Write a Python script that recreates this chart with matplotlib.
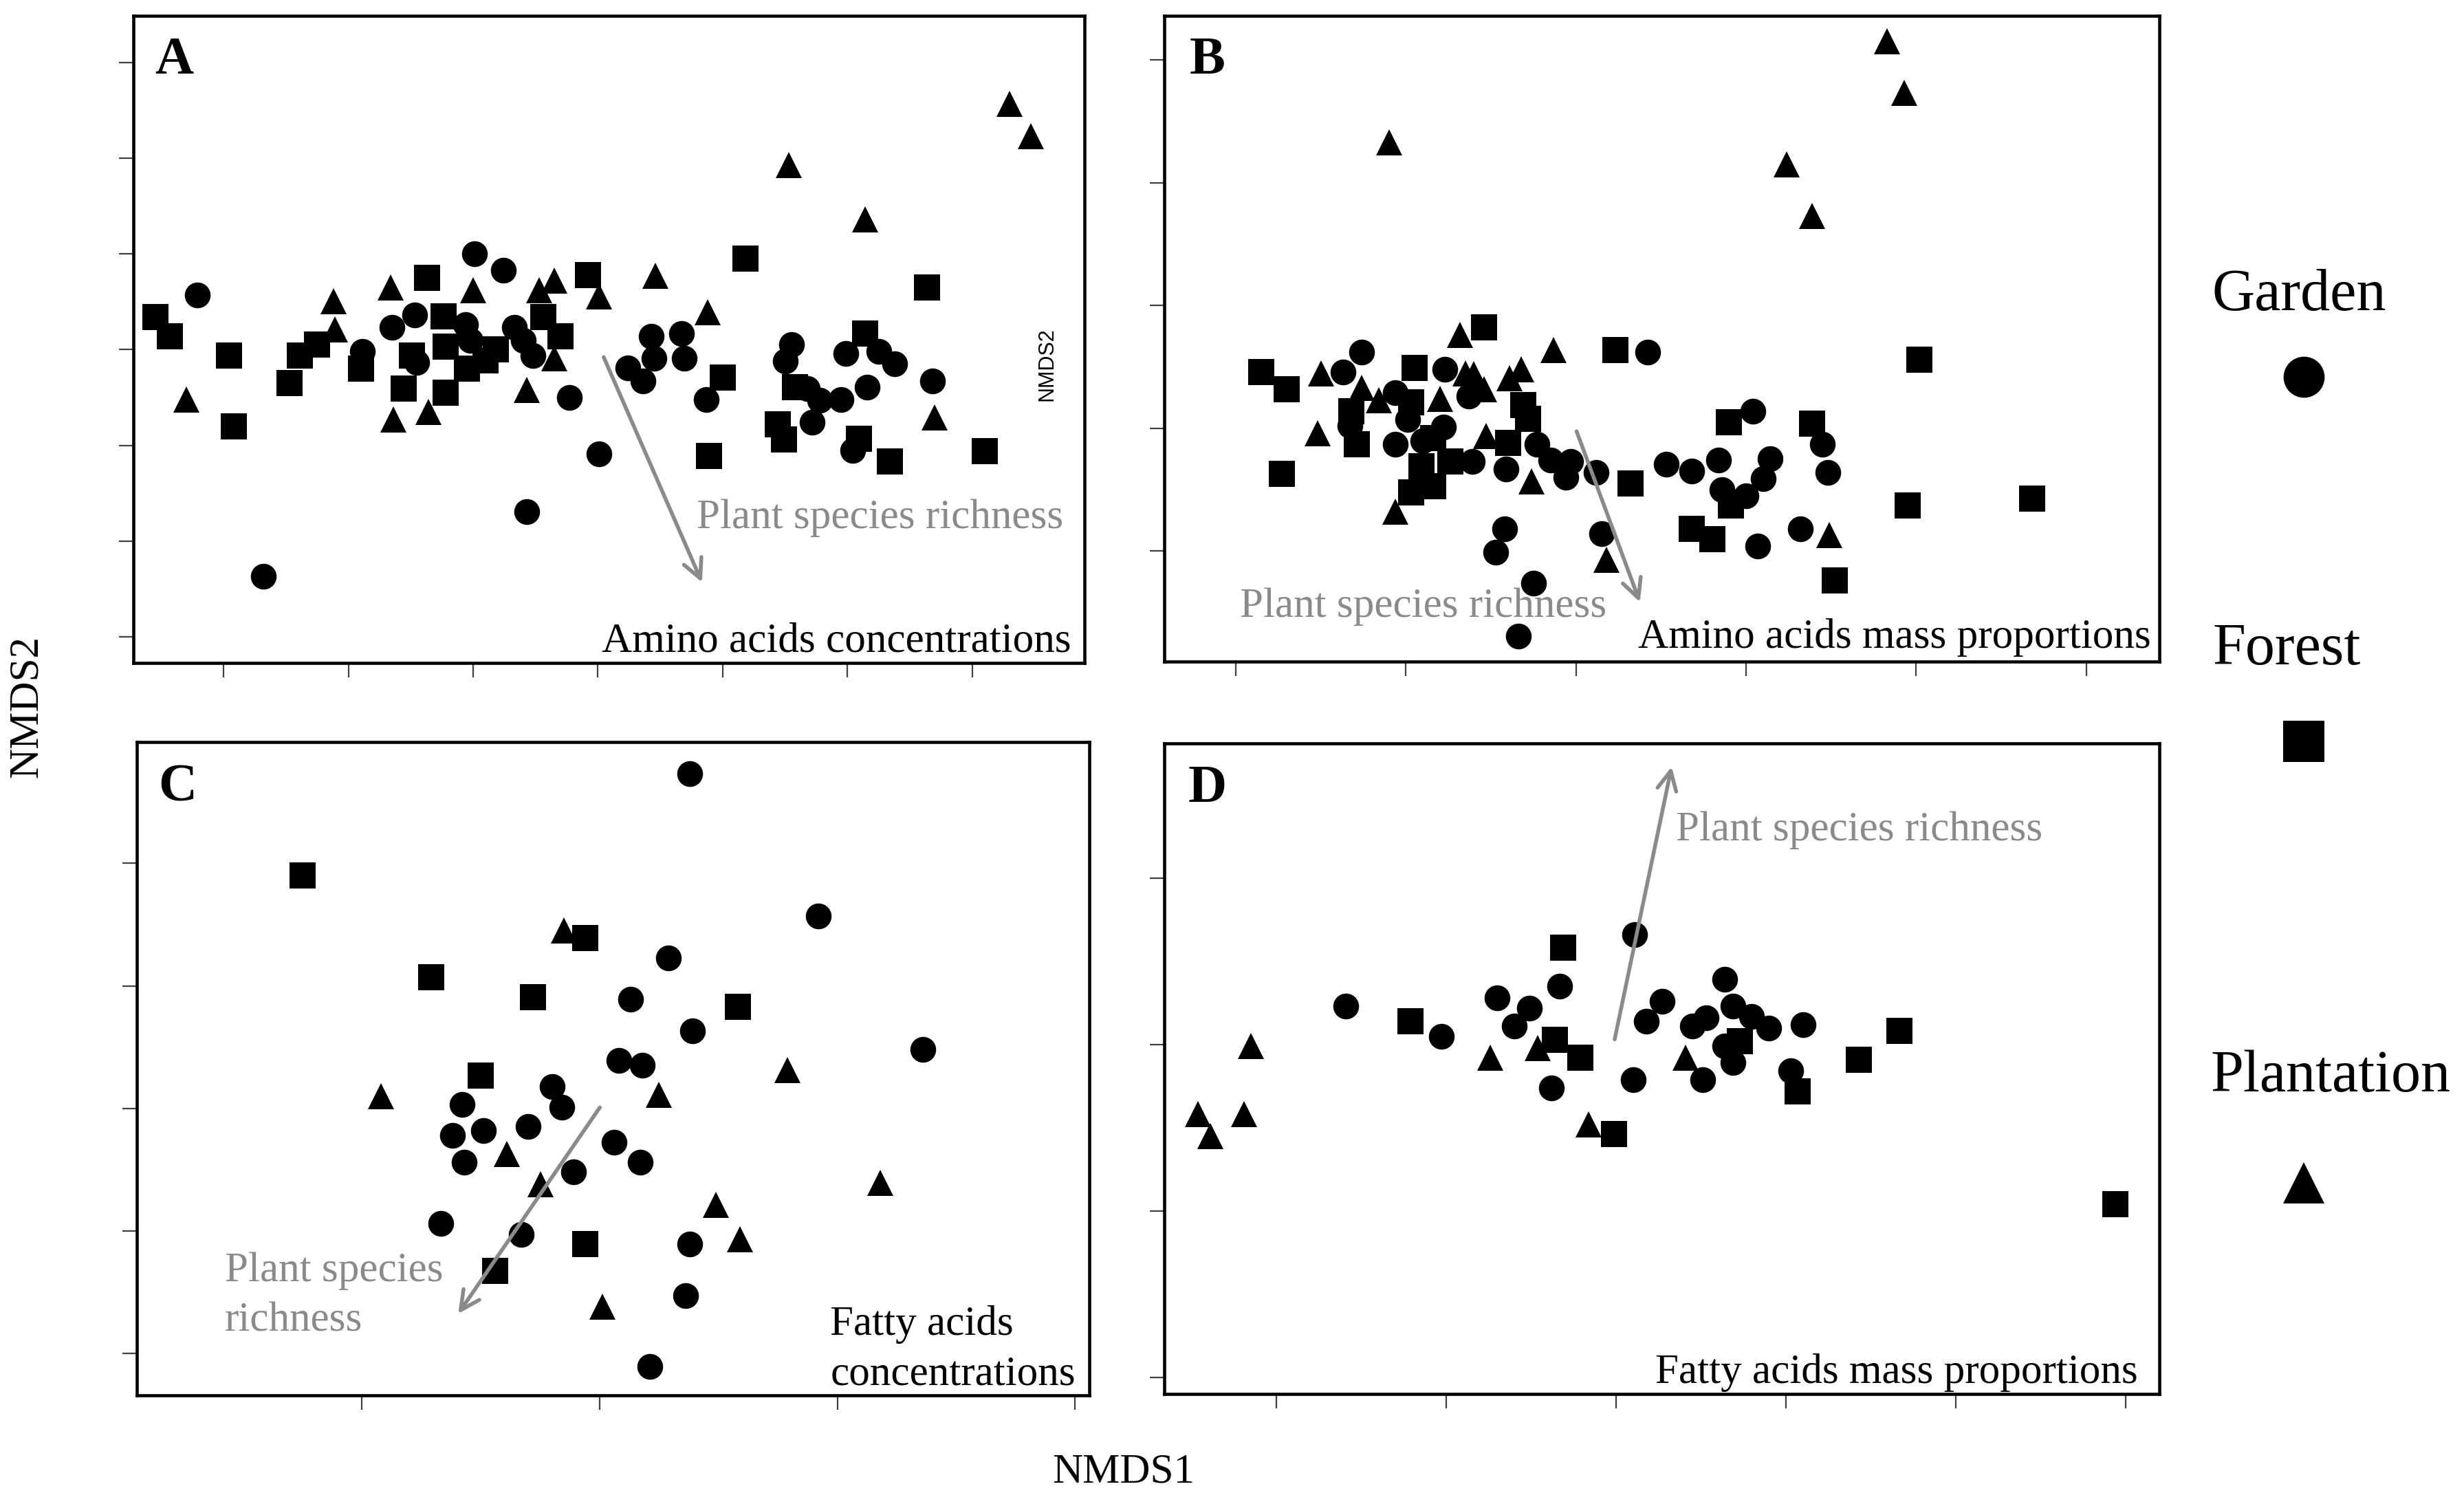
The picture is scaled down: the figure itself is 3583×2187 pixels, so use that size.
import matplotlib
matplotlib.use("Agg")
import matplotlib.pyplot as plt

plt.rcParams['font.family'] = ['Liberation Serif', 'DejaVu Serif']

# ---- data (NMDS scores, axis units = tick spacing) ----
# panel A: amino acids concentrations
a_garden = [(-0.21, 3.57), (2.01, 4.00), (2.24, 3.83), (1.35, 3.23), (1.53, 3.36), (1.94, 3.26),
            (1.98, 3.10), (2.33, 3.23), (2.40, 3.10), (2.48, 2.94), (1.11, 2.98), (1.55, 2.87),
            (2.77, 2.50), (3.01, 1.91), (2.43, 1.31), (0.32, 0.63), (3.24, 2.81), (3.36, 2.67),
            (3.43, 3.14), (3.45, 2.91), (3.67, 3.17), (3.69, 2.91), (3.87, 2.48), (4.55, 3.05),
            (4.50, 2.88), (4.68, 2.59), (4.78, 2.47), (4.72, 2.24), (4.95, 2.48), (4.99, 2.96),
            (5.16, 2.61), (5.25, 2.98), (5.38, 2.85), (5.68, 2.67), (5.04, 1.95)]
a_forest = [(-0.55, 3.34), (-0.43, 3.14), (0.04, 2.94), (0.08, 2.20), (0.53, 2.65), (0.61, 2.94),
            (0.75, 3.05), (1.10, 2.80), (1.63, 3.75), (1.44, 2.59), (1.51, 2.94), (1.76, 3.35),
            (1.78, 3.03), (1.78, 2.55), (1.95, 2.80), (2.10, 2.89), (2.18, 3.00), (2.56, 3.34),
            (2.70, 3.14), (2.92, 3.78), (4.18, 3.95), (4.00, 2.71), (3.89, 1.89), (4.44, 2.22),
            (4.49, 2.06), (4.58, 2.61), (5.14, 3.17), (5.09, 2.07), (5.34, 1.83), (5.64, 3.65),
            (6.10, 1.94)]
a_plantation = [(-0.30, 2.48), (0.88, 3.51), (0.89, 3.21), (1.34, 3.65), (1.36, 2.27), (1.64, 2.35),
                (2.00, 3.62), (2.43, 2.58), (2.53, 3.62), (2.65, 3.72), (2.65, 2.91), (3.01, 3.56),
                (3.46, 3.77), (3.88, 3.39), (4.53, 4.93), (5.14, 4.36), (5.70, 2.29), (6.30, 5.57),
                (6.47, 5.23)]
a_arrow = [(3.04, 2.94), (3.84, 0.55)]

# panel B: amino acids mass proportions
b_garden = [(0.74, 1.62), (0.63, 1.46), (0.94, 1.29), (1.01, 1.07), (0.67, 1.02), (0.94, 0.87),
            (1.23, 1.48), (1.37, 1.26), (1.22, 1.01), (1.10, 0.90), (1.39, 0.73), (1.59, 0.67),
            (1.77, 0.87), (1.85, 0.74), (1.97, 0.73), (1.94, 0.60), (2.12, 0.64), (2.42, 1.62),
            (2.53, 0.71), (2.68, 0.65), (2.84, 0.74), (2.86, 0.50), (3.00, 0.45), (3.10, 0.59),
            (3.14, 0.75), (3.04, 1.14), (3.45, 0.87), (3.48, 0.64), (3.32, 0.18), (3.07, 0.04),
            (1.58, 0.18), (1.53, -0.01), (2.15, 0.14), (1.75, -0.26), (1.66, -0.69)]
b_forest = [(0.15, 1.46), (0.30, 1.32), (0.27, 0.63), (0.68, 1.14), (0.71, 0.87), (1.05, 1.49),
            (1.03, 1.21), (1.16, 0.92), (1.09, 0.69), (1.03, 0.48), (1.16, 0.53), (1.26, 0.73),
            (1.46, 1.82), (1.69, 1.19), (1.72, 1.08), (1.60, 0.88), (2.23, 1.64), (2.32, 0.55),
            (2.90, 1.05), (2.91, 0.37), (2.68, 0.18), (2.80, 0.10), (3.39, 1.04), (3.52, -0.24),
            (3.95, 0.37), (4.02, 1.56), (4.68, 0.43)]
b_plantation = [(0.90, 3.33), (0.50, 1.45), (0.48, 0.96), (0.74, 1.33), (0.84, 1.23), (1.20, 1.24),
                (1.32, 1.76), (1.35, 1.45), (1.40, 1.44), (1.46, 1.32), (1.47, 0.94), (1.61, 1.41),
                (1.68, 1.48), (1.87, 1.64), (0.94, 0.32), (1.74, 0.57), (2.18, -0.07), (3.49, 0.13),
                (3.24, 3.15), (3.39, 2.73), (3.83, 4.15), (3.93, 3.73)]
b_arrow = [(2.00, 0.99), (2.38, -0.43)]

# panel C: fatty acids concentrations
c_garden = [(1.38, 4.73), (1.92, 3.57), (1.29, 3.23), (1.13, 2.89), (1.39, 2.63), (2.36, 2.48),
            (1.08, 2.39), (1.18, 2.35), (0.80, 2.18), (0.84, 2.01), (0.42, 2.03), (0.38, 1.78),
            (0.51, 1.82), (0.70, 1.85), (0.43, 1.56), (1.06, 1.72), (1.17, 1.56), (0.89, 1.48),
            (0.33, 1.06), (0.67, 0.97), (1.38, 0.89), (1.36, 0.47), (1.21, -0.11)]
c_forest = [(-0.25, 3.90), (0.94, 3.39), (0.29, 3.07), (0.72, 2.91), (1.58, 2.83), (0.50, 2.27),
            (0.94, 0.89), (0.56, 0.67)]
c_plantation = [(0.85, 3.45), (0.08, 2.10), (0.61, 1.63), (0.75, 1.38), (1.25, 2.11), (1.79, 2.31),
                (1.49, 1.21), (1.59, 0.93), (2.18, 1.39), (1.01, 0.38)]
c_arrow = [(1.005, 2.02), (0.40, 0.31)]

# panel D: fatty acids mass proportions
d_garden = [(0.41, 2.23), (0.97, 2.05), (1.30, 2.28), (1.40, 2.11), (1.49, 2.22), (1.67, 2.35),
            (1.62, 1.74), (2.11, 2.66), (2.18, 2.14), (2.27, 2.26), (2.10, 1.79), (2.45, 2.11),
            (2.53, 2.16), (2.64, 2.39), (2.69, 2.23), (2.80, 2.17), (2.90, 2.10), (3.10, 2.12),
            (2.64, 1.99), (2.69, 1.89), (2.51, 1.79), (3.03, 1.84)]
d_forest = [(1.69, 2.58), (0.79, 2.14), (1.64, 2.03), (1.79, 1.92), (2.73, 2.02), (3.07, 1.72),
            (3.43, 1.91), (3.67, 2.08), (1.99, 1.46), (4.94, 1.04)]
d_plantation = [(-0.15, 1.99), (-0.46, 1.58), (-0.39, 1.45), (-0.19, 1.58), (1.26, 1.92),
                (1.54, 1.98), (2.41, 1.92), (1.84, 1.52)]
d_arrow = [(1.99, 2.02), (2.33, 3.68)]

panel_letters = ['A', 'B', 'C', 'D']
panel_titles = ['Amino acids concentrations', 'Amino acids mass proportions',
                'Fatty acids\nconcentrations', 'Fatty acids mass proportions']
vector_label = ['Plant species richness', 'Plant species richness',
                'Plant species\nrichness', 'Plant species richness']
groups = ['Garden', 'Forest', 'Plantation']

# marker and size per site type
markers = {'Garden': ('o', 27), 'Forest': ('s', 27.5), 'Plantation': ('^', 27)}

fig = plt.figure(figsize=(35.83, 21.87), dpi=100)

# axes rectangles (figure fractions) and limits
rects = [[0.0541, 0.5592, 0.386, 0.4303], [0.4725, 0.5601, 0.4039, 0.4294],
         [0.0555, 0.0722, 0.3866, 0.4344], [0.4725, 0.0732, 0.4039, 0.4326]]
xlims = [(-0.725, 6.9), (-0.42, 5.43), (-0.948, 3.06), (-0.66, 5.2)]
ylims = [(-0.275, 6.49), (-0.9, 4.36), (-0.344, 4.99), (-0.1, 3.81)]
xticks = [range(7), range(6), range(4), range(6)]
yticks = [range(7), range(5), range(5), range(4)]
# text placement in axes fraction
vec_pos = [(0.592, 0.224), (0.076, 0.085), (0.0925, 0.152), (0.514, 0.866)]
title_pos = [(0.986, 0.033, 'right'), (0.9915, 0.037, 'right'),
             (0.728, 0.07, 'left'), (0.978, 0.033, 'right')]

data = [(a_garden, a_forest, a_plantation, a_arrow),
        (b_garden, b_forest, b_plantation, b_arrow),
        (c_garden, c_forest, c_plantation, c_arrow),
        (d_garden, d_forest, d_plantation, d_arrow)]

gray = '#8a8a8a'
for i in range(4):
    ax = fig.add_axes(rects[i])
    garden, forest, plantation, arrow = data[i]
    for name, pts in zip(groups, (garden, forest, plantation)):
        m, ms = markers[name]
        ax.plot([p[0] for p in pts], [p[1] for p in pts], linestyle='none',
                marker=m, markersize=ms, color='black', markeredgewidth=0)
    ax.annotate('', xy=arrow[1], xytext=arrow[0],
                arrowprops=dict(arrowstyle='->', color=gray, lw=4, mutation_scale=50))
    ax.set_xlim(*xlims[i])
    ax.set_ylim(*ylims[i])
    ax.set_xticks(list(xticks[i]))
    ax.set_yticks(list(yticks[i]))
    ax.tick_params(direction='out', length=15, width=1.6, color='#404040',
                   labelbottom=False, labelleft=False)
    for s in ax.spines.values():
        s.set_linewidth(3.3)
    ax.text(0.043, 0.93, panel_letters[i], transform=ax.transAxes, fontsize=56,
            fontweight='bold', ha='center', va='center')
    ax.text(vec_pos[i][0], vec_pos[i][1], vector_label[i], transform=ax.transAxes,
            fontsize=44, color=gray, ha='left', va='center', linespacing=1.4)
    tx, ty, tha = title_pos[i]
    ax.text(tx, ty, panel_titles[i], transform=ax.transAxes, fontsize=44,
            ha=tha, va='center', linespacing=1.4)
    if i == 0:
        ax.text(6.6, 2.85, 'NMDS2', rotation=90, fontsize=22, family='Liberation Sans',
                ha='center', va='center')

fig.text(0.0109, 0.530, 'NMDS2', rotation=90, fontsize=44, ha='center', va='center')
fig.text(0.456, 0.021, 'NMDS1', fontsize=44, ha='center', va='center')

# legend column on the right
lax = fig.add_axes([0.89, 0.15, 0.1, 0.7])
lax.set_xlim(0, 1)
lax.set_ylim(0, 1)
lax.axis('off')
leg_text_pos = [(0.43, 0.933), (0.38, 0.597), (0.56, 0.191)]
leg_mark_pos = [(0.45, 0.856), (0.45, 0.51), (0.45, 0.091)]
for name, tp, mp in zip(groups, leg_text_pos, leg_mark_pos):
    m, ms = markers[name]
    lax.text(tp[0], tp[1], name, fontsize=62, ha='center', va='center')
    lax.plot([mp[0]], [mp[1]], marker=m, markersize=43, color='black',
             markeredgewidth=0, linestyle='none', clip_on=False)

fig.savefig('out.png', dpi=100)
